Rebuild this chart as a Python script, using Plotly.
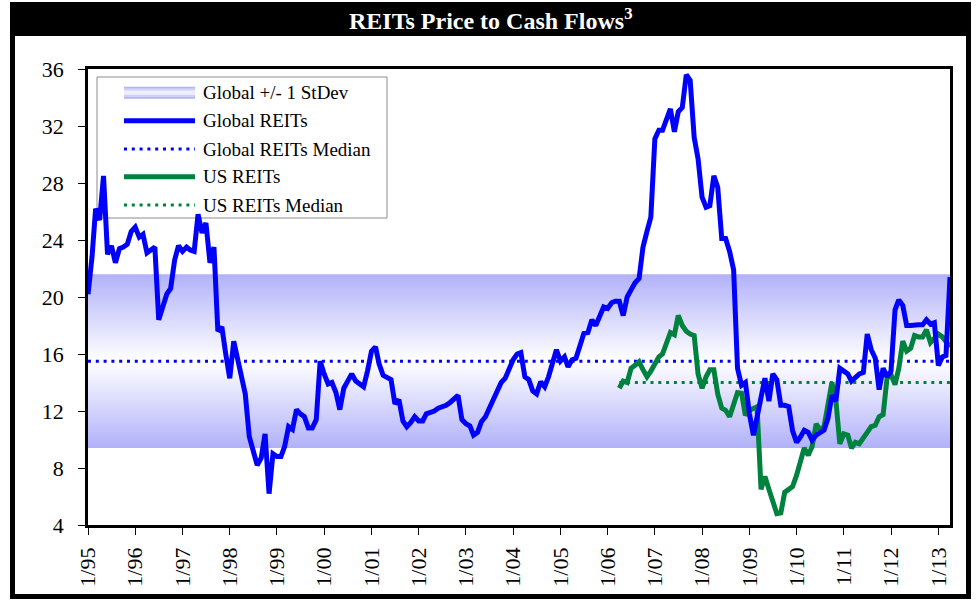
import pandas as pd
import plotly.graph_objects as go

# ---------------- data ----------------
START = "1995-01-01"
US_START = "2006-04-01"

# Global REITs price / cash flow, monthly from Jan 1995
global_reits = [
    20.2, 22.8, 26.2, 25.4, 28.5, 23.0, 23.6, 22.4, 23.4, 23.5, 23.7, 24.6,   # 1995
    24.9, 24.2, 24.4, 23.1, 23.3, 23.5, 18.4, 19.2, 20.2, 20.6, 22.6, 23.6,   # 1996
    23.2, 23.5, 23.3, 23.2, 25.8, 24.5, 25.2, 22.4, 23.5, 17.6, 17.9, 16.0,   # 1997
    14.3, 16.9, 15.7, 14.5, 13.2, 10.2, 9.2, 8.2, 8.7, 10.4, 6.2, 9.0,        # 1998
    8.8, 8.8, 9.5, 10.9, 10.7, 12.1, 11.8, 11.6, 10.8, 10.8, 11.4, 15.5,      # 1999
    14.6, 13.9, 14.0, 13.3, 12.1, 13.6, 14.1, 14.6, 14.1, 13.9, 13.7, 14.8,   # 2000
    16.2, 16.5, 15.3, 14.5, 14.3, 14.2, 12.5, 12.8, 11.3, 10.9, 11.2, 11.6,   # 2001
    11.3, 11.3, 11.8, 11.9, 12.0, 12.2, 12.3, 12.4, 12.6, 12.8, 13.1, 11.4,   # 2002
    11.1, 10.95, 10.3, 10.5, 11.25, 11.6, 12.2, 12.7, 13.3, 14.0, 14.3, 15.0, # 2003
    15.6, 16.0, 16.1, 14.4, 14.2, 13.4, 13.2, 14.05, 13.7, 14.4, 15.35, 16.3, # 2004
    15.5, 15.8, 15.1, 15.6, 15.7, 16.75, 17.45, 17.5, 18.4, 18.0, 18.7, 19.3, # 2005
    19.2, 19.6, 19.7, 19.7, 18.7, 20.0, 20.5, 21.0, 21.3, 23.5, 24.6, 25.6,   # 2006
    31.1, 31.7, 31.7, 32.5, 33.2, 31.6, 33.0, 33.3, 35.6, 35.2, 31.2, 29.7,   # 2007
    27.0, 26.3, 26.4, 28.5, 27.7, 24.1, 24.1, 23.2, 21.9, 15.0, 13.8, 14.0,   # 2008
    11.8, 10.3, 11.5, 13.0, 14.3, 12.7, 14.6, 14.2, 12.4, 12.4, 12.3, 10.6,   # 2009
    9.8, 10.2, 10.65, 10.5, 9.95, 10.3, 10.5, 10.65, 11.5, 13.1, 12.7, 15.0,  # 2010
    14.8, 14.6, 14.1, 14.4, 14.6, 14.7, 17.4, 16.3, 15.7, 13.5, 15.0, 14.4,   # 2011
    14.8, 19.1, 19.8, 19.4, 18.0, 18.0, 18.05, 18.05, 18.05, 18.4, 18.1, 18.2, # 2012
    15.2, 15.8, 15.9, 21.4,                                                    # 2013
]

# US REITs price / cash flow, monthly from Apr 2006
us_reits = [
    13.6, 14.1, 14.0, 15.0, 15.2, 15.45, 14.9, 14.4, 14.8,                    # 2006
    15.3, 15.8, 16.0, 16.8, 17.5, 17.35, 18.7, 18.0, 17.6, 17.4, 17.3, 14.6,  # 2007
    13.6, 14.4, 14.9, 14.9, 13.2, 12.2, 12.05, 11.6, 12.4, 13.3, 13.25, 11.7, # 2008
    12.05, 12.2, 12.3, 6.5, 7.4, 6.5, 5.7, 4.8, 4.85, 6.3, 6.5, 6.7,          # 2009
    7.5, 8.4, 9.4, 8.9, 9.5, 11.1, 10.7, 10.9, 12.6, 14.0, 12.7, 9.7,         # 2010
    10.4, 10.3, 9.4, 9.8, 9.7, 10.1, 10.5, 10.9, 11.0, 11.6, 11.75, 14.3,     # 2011
    14.55, 13.85, 15.0, 16.9, 16.2, 16.4, 17.3, 17.2, 17.2, 17.7, 16.8, 17.1, # 2012
    17.4, 17.2, 16.8, 16.5,                                                    # 2013
]

GLOBAL_MEDIAN = 15.5
GLOBAL_STDEV = 6.1
US_MEDIAN = 14.0

x_tick_labels = ["1/95", "1/96", "1/97", "1/98", "1/99", "1/00", "1/01", "1/02", "1/03",
                 "1/04", "1/05", "1/06", "1/07", "1/08", "1/09", "1/10", "1/11", "1/12", "1/13"]
x_tick_dates = [f"{year}-01-01" for year in range(1995, 2014)]
y_ticks = [4, 8, 12, 16, 20, 24, 28, 32, 36]

legend_labels = ["Global +/- 1 StDev", "Global REITs", "Global REITs Median",
                 "US REITs", "US REITs Median"]

# ---------------- styling ----------------
W, H = 977, 602
PLOT_L, PLOT_R, PLOT_T, PLOT_B = 88, 950, 69, 525
FONT = "Times New Roman, Liberation Serif, serif"
BLUE = "#0000ff"
GREEN = "#00823f"
BAND_EDGE = "#b1b1fa"
DOT = "3px,4.8px"


def px(xp):
    return (xp - PLOT_L) / (PLOT_R - PLOT_L)


def py(yp):
    return (PLOT_B - yp) / (PLOT_B - PLOT_T)


months = pd.date_range(START, periods=len(global_reits), freq="MS")
us_months = pd.date_range(US_START, periods=len(us_reits), freq="MS")

fig = go.Figure()

# +/- 1 standard deviation band around the global median
band_lo = GLOBAL_MEDIAN - GLOBAL_STDEV
band_hi = GLOBAL_MEDIAN + GLOBAL_STDEV
fig.add_trace(go.Scatter(
    x=[months[0], months[-1], months[-1], months[0], months[0]],
    y=[band_lo, band_lo, band_hi, band_hi, band_lo],
    mode="lines", fill="toself", line=dict(width=0),
    fillgradient=dict(type="vertical",
                      colorscale=[[0, BAND_EDGE], [0.5, "#ffffff"], [1, BAND_EDGE]]),
    hoverinfo="skip", showlegend=False,
))

# median reference lines
fig.add_trace(go.Scatter(
    x=months, y=[GLOBAL_MEDIAN] * len(months), mode="lines",
    line=dict(color=BLUE, width=3, dash=DOT), hoverinfo="skip", showlegend=False,
))
fig.add_trace(go.Scatter(
    x=us_months, y=[US_MEDIAN] * len(us_months), mode="lines",
    line=dict(color=GREEN, width=3, dash=DOT), hoverinfo="skip", showlegend=False,
))

# series
fig.add_trace(go.Scatter(
    x=us_months, y=us_reits, mode="lines", name="US REITs",
    line=dict(color=GREEN, width=5, shape="linear"), showlegend=False,
))
fig.add_trace(go.Scatter(
    x=months, y=global_reits, mode="lines", name="Global REITs",
    line=dict(color=BLUE, width=5, shape="linear"), showlegend=False,
))

shapes = []
annotations = []

# outer frame and title bar
shapes.append(dict(type="rect", xref="paper", yref="paper",
                   x0=px(10), x1=px(971), y0=py(2), y1=py(36),
                   fillcolor="black", line=dict(width=0)))
shapes.append(dict(type="rect", xref="paper", yref="paper",
                   x0=px(12.5), x1=px(968.5), y0=py(4.5), y1=py(596.5),
                   fillcolor="rgba(0,0,0,0)", line=dict(color="black", width=5)))
annotations.append(dict(xref="paper", yref="paper", x=px(490.5), y=py(19),
                        xanchor="center", yanchor="middle", showarrow=False,
                        text="<b>REITs Price to Cash Flows<sup>3</sup></b>",
                        font=dict(family=FONT, size=24, color="white")))

# legend
LEG_X0, LEG_X1, LEG_Y0, LEG_Y1 = 97, 387, 77, 218
SYM_X0, SYM_X1, TXT_X = 124, 195, 201
rows = [92.7, 120.7, 149.0, 176.7, 205.0]
shapes.append(dict(type="rect", xref="paper", yref="paper", layer="below",
                   x0=px(LEG_X0), x1=px(LEG_X1), y0=py(LEG_Y0), y1=py(LEG_Y1),
                   fillcolor="rgba(0,0,0,0)", line=dict(color="#8c8c8c", width=1)))

# gradient swatch for the band entry
swatch = ["#b4b4f6", "#d0d0f8", "#ececfc", "#ececfc", "#d0d0f8", "#b4b4f6"]
top = rows[0] - 6
for i, c in enumerate(swatch):
    shapes.append(dict(type="rect", xref="paper", yref="paper",
                       x0=px(SYM_X0), x1=px(SYM_X1),
                       y0=py(top + 2 * i), y1=py(top + 2 * i + 2),
                       fillcolor=c, line=dict(width=0)))

legend_styles = [
    None,
    dict(color=BLUE, width=5),
    dict(color=BLUE, width=3, dash=DOT),
    dict(color=GREEN, width=5),
    dict(color=GREEN, width=3, dash=DOT),
]
for row_y, style in zip(rows, legend_styles):
    if style is None:
        continue
    shapes.append(dict(type="line", xref="paper", yref="paper",
                       x0=px(SYM_X0), x1=px(SYM_X1), y0=py(row_y), y1=py(row_y),
                       line=style))

for row_y, label in zip(rows, legend_labels):
    annotations.append(dict(xref="paper", yref="paper", x=px(TXT_X), y=py(row_y),
                            xanchor="left", yanchor="middle", showarrow=False,
                            text=label, font=dict(family=FONT, size=19, color="black")))

fig.update_layout(
    width=W, height=H,
    margin=dict(l=PLOT_L, r=W - PLOT_R, t=PLOT_T, b=H - PLOT_B, pad=0, autoexpand=False),
    paper_bgcolor="white", plot_bgcolor="rgba(0,0,0,0)",
    font=dict(family=FONT, size=22, color="black"),
    shapes=shapes, annotations=annotations,
    showlegend=False,
)
fig.update_xaxes(
    type="date", range=[months[0], months[-1]],
    tickmode="array", tickvals=x_tick_dates, ticktext=x_tick_labels,
    tickangle=-90, ticks="outside", ticklen=7, tickwidth=1, tickcolor="black",
    ticklabelstandoff=4,
    showline=True, linecolor="black", linewidth=2.5, mirror=True,
    showgrid=False, zeroline=False, tickfont=dict(family=FONT, size=22),
)
fig.update_yaxes(
    range=[4, 36], tickmode="array", tickvals=y_ticks,
    ticks="outside", ticklen=7, tickwidth=1, tickcolor="black",
    ticklabelstandoff=10,
    showline=True, linecolor="black", linewidth=2.5, mirror=True,
    showgrid=False, zeroline=False, tickfont=dict(family=FONT, size=22),
)

fig.write_html("out.html")
